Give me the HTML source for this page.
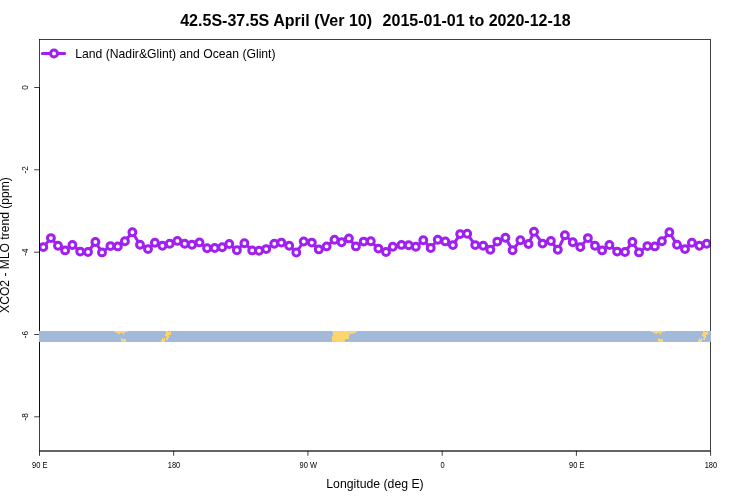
<!DOCTYPE html>
<html><head><meta charset="utf-8"><title>chart</title>
<style>
html,body{margin:0;padding:0;background:#fff;}
body{width:750px;height:500px;overflow:hidden;font-family:"Liberation Sans",sans-serif;}
svg{display:block;will-change:transform}
text{font-family:"Liberation Sans",sans-serif;fill:#000}
</style></head><body>
<svg width="750" height="500" viewBox="0 0 750 500">
<rect width="750" height="500" fill="#fff"/>
<g font-size="16.05" font-weight="bold"><text x="180.2" y="26.2">42.5S-37.5S April (Ver 10)</text><text x="382.6" y="26.2">2015-01-01 to 2020-12-18</text></g>
<defs><clipPath id="pc"><rect x="39.5" y="39.5" width="671" height="411"/></clipPath></defs>
<g clip-path="url(#pc)"><polyline points="43.30,247.10 50.90,238.10 58.00,245.80 65.10,250.40 72.40,245.00 80.20,251.60 88.00,252.00 95.40,242.00 102.00,252.40 110.40,246.10 117.80,246.40 124.90,241.20 132.40,232.30 140.00,244.80 148.00,249.10 154.90,242.80 162.40,245.70 169.70,243.70 177.40,240.90 184.70,243.80 192.00,244.80 199.50,242.40 207.10,248.30 214.70,248.00 222.20,247.20 229.30,244.00 236.90,250.20 244.40,243.20 252.20,250.40 259.00,250.80 266.20,249.10 274.30,243.80 281.30,242.60 289.20,245.80 296.30,252.50 303.70,241.50 311.80,242.60 318.80,249.40 326.60,246.40 334.50,239.80 341.60,242.30 348.90,238.40 355.90,246.40 363.70,241.60 370.80,241.30 378.40,248.60 386.00,252.00 392.80,246.70 401.50,244.90 408.70,245.30 415.80,246.80 423.30,240.30 430.70,248.00 437.80,239.70 445.30,241.40 452.90,245.10 460.20,234.10 467.20,233.80 475.20,245.10 483.20,245.80 490.30,249.80 497.30,241.60 505.40,237.80 512.60,250.20 520.40,240.30 528.50,244.00 534.00,231.70 542.50,243.60 550.90,241.00 557.80,249.80 564.90,235.30 572.80,242.20 580.30,247.10 587.90,238.10 595.00,245.80 602.10,250.40 609.40,245.00 617.20,251.60 625.00,252.00 632.40,242.00 639.00,252.40 647.40,246.10 654.80,246.40 661.90,241.20 669.40,232.30 677.00,244.80 685.00,249.10 691.90,242.80 699.40,245.70 706.70,243.70" fill="none" stroke="#a020f0" stroke-width="3" stroke-linejoin="round"/>
<g fill="#fff" stroke="#a020f0" stroke-width="3"><circle cx="43.30" cy="247.10" r="3.45"/><circle cx="50.90" cy="238.10" r="3.45"/><circle cx="58.00" cy="245.80" r="3.45"/><circle cx="65.10" cy="250.40" r="3.45"/><circle cx="72.40" cy="245.00" r="3.45"/><circle cx="80.20" cy="251.60" r="3.45"/><circle cx="88.00" cy="252.00" r="3.45"/><circle cx="95.40" cy="242.00" r="3.45"/><circle cx="102.00" cy="252.40" r="3.45"/><circle cx="110.40" cy="246.10" r="3.45"/><circle cx="117.80" cy="246.40" r="3.45"/><circle cx="124.90" cy="241.20" r="3.45"/><circle cx="132.40" cy="232.30" r="3.45"/><circle cx="140.00" cy="244.80" r="3.45"/><circle cx="148.00" cy="249.10" r="3.45"/><circle cx="154.90" cy="242.80" r="3.45"/><circle cx="162.40" cy="245.70" r="3.45"/><circle cx="169.70" cy="243.70" r="3.45"/><circle cx="177.40" cy="240.90" r="3.45"/><circle cx="184.70" cy="243.80" r="3.45"/><circle cx="192.00" cy="244.80" r="3.45"/><circle cx="199.50" cy="242.40" r="3.45"/><circle cx="207.10" cy="248.30" r="3.45"/><circle cx="214.70" cy="248.00" r="3.45"/><circle cx="222.20" cy="247.20" r="3.45"/><circle cx="229.30" cy="244.00" r="3.45"/><circle cx="236.90" cy="250.20" r="3.45"/><circle cx="244.40" cy="243.20" r="3.45"/><circle cx="252.20" cy="250.40" r="3.45"/><circle cx="259.00" cy="250.80" r="3.45"/><circle cx="266.20" cy="249.10" r="3.45"/><circle cx="274.30" cy="243.80" r="3.45"/><circle cx="281.30" cy="242.60" r="3.45"/><circle cx="289.20" cy="245.80" r="3.45"/><circle cx="296.30" cy="252.50" r="3.45"/><circle cx="303.70" cy="241.50" r="3.45"/><circle cx="311.80" cy="242.60" r="3.45"/><circle cx="318.80" cy="249.40" r="3.45"/><circle cx="326.60" cy="246.40" r="3.45"/><circle cx="334.50" cy="239.80" r="3.45"/><circle cx="341.60" cy="242.30" r="3.45"/><circle cx="348.90" cy="238.40" r="3.45"/><circle cx="355.90" cy="246.40" r="3.45"/><circle cx="363.70" cy="241.60" r="3.45"/><circle cx="370.80" cy="241.30" r="3.45"/><circle cx="378.40" cy="248.60" r="3.45"/><circle cx="386.00" cy="252.00" r="3.45"/><circle cx="392.80" cy="246.70" r="3.45"/><circle cx="401.50" cy="244.90" r="3.45"/><circle cx="408.70" cy="245.30" r="3.45"/><circle cx="415.80" cy="246.80" r="3.45"/><circle cx="423.30" cy="240.30" r="3.45"/><circle cx="430.70" cy="248.00" r="3.45"/><circle cx="437.80" cy="239.70" r="3.45"/><circle cx="445.30" cy="241.40" r="3.45"/><circle cx="452.90" cy="245.10" r="3.45"/><circle cx="460.20" cy="234.10" r="3.45"/><circle cx="467.20" cy="233.80" r="3.45"/><circle cx="475.20" cy="245.10" r="3.45"/><circle cx="483.20" cy="245.80" r="3.45"/><circle cx="490.30" cy="249.80" r="3.45"/><circle cx="497.30" cy="241.60" r="3.45"/><circle cx="505.40" cy="237.80" r="3.45"/><circle cx="512.60" cy="250.20" r="3.45"/><circle cx="520.40" cy="240.30" r="3.45"/><circle cx="528.50" cy="244.00" r="3.45"/><circle cx="534.00" cy="231.70" r="3.45"/><circle cx="542.50" cy="243.60" r="3.45"/><circle cx="550.90" cy="241.00" r="3.45"/><circle cx="557.80" cy="249.80" r="3.45"/><circle cx="564.90" cy="235.30" r="3.45"/><circle cx="572.80" cy="242.20" r="3.45"/><circle cx="580.30" cy="247.10" r="3.45"/><circle cx="587.90" cy="238.10" r="3.45"/><circle cx="595.00" cy="245.80" r="3.45"/><circle cx="602.10" cy="250.40" r="3.45"/><circle cx="609.40" cy="245.00" r="3.45"/><circle cx="617.20" cy="251.60" r="3.45"/><circle cx="625.00" cy="252.00" r="3.45"/><circle cx="632.40" cy="242.00" r="3.45"/><circle cx="639.00" cy="252.40" r="3.45"/><circle cx="647.40" cy="246.10" r="3.45"/><circle cx="654.80" cy="246.40" r="3.45"/><circle cx="661.90" cy="241.20" r="3.45"/><circle cx="669.40" cy="232.30" r="3.45"/><circle cx="677.00" cy="244.80" r="3.45"/><circle cx="685.00" cy="249.10" r="3.45"/><circle cx="691.90" cy="242.80" r="3.45"/><circle cx="699.40" cy="245.70" r="3.45"/><circle cx="706.70" cy="243.70" r="3.45"/></g></g>
<line x1="42.4" y1="53.6" x2="64.6" y2="53.6" stroke="#a020f0" stroke-width="3" stroke-linecap="round"/>
<circle cx="54" cy="53.5" r="3.45" fill="#fff" stroke="#a020f0" stroke-width="3"/>
<text x="75.3" y="57.8" font-size="12.18">Land (Nadir&amp;Glint) and Ocean (Glint)</text>
<g stroke="#000" stroke-width="0.75" fill="none">
<rect x="39.5" y="39.5" width="671.1" height="411.5"/>
<line x1="39.5" y1="451" x2="39.5" y2="455.8"/><line x1="173.7" y1="451" x2="173.7" y2="455.8"/><line x1="307.9" y1="451" x2="307.9" y2="455.8"/><line x1="442.2" y1="451" x2="442.2" y2="455.8"/><line x1="576.4" y1="451" x2="576.4" y2="455.8"/><line x1="710.6" y1="451" x2="710.6" y2="455.8"/><line x1="34.2" y1="87.5" x2="39.5" y2="87.5"/><line x1="34.2" y1="169.8" x2="39.5" y2="169.8"/><line x1="34.2" y1="252.2" x2="39.5" y2="252.2"/><line x1="34.2" y1="334.5" x2="39.5" y2="334.5"/><line x1="34.2" y1="416.8" x2="39.5" y2="416.8"/>
<line x1="39.5" y1="451" x2="710.6" y2="451"/><line x1="39.5" y1="87.5" x2="39.5" y2="416.8"/>
</g>
<rect shape-rendering="crispEdges" x="39" y="331" width="672" height="11" fill="#a3b9d9"/>
<g fill="#fdd56e" shape-rendering="crispEdges"><rect x="114" y="331" width="14" height="1"/><rect x="651" y="331" width="14" height="1"/><rect x="116" y="332" width="9" height="1"/><rect x="653" y="332" width="9" height="1"/><rect x="118" y="333" width="2" height="1"/><rect x="655" y="333" width="2" height="1"/><rect x="123" y="333" width="1" height="1"/><rect x="660" y="333" width="1" height="1"/><rect x="123" y="334" width="1" height="1"/><rect x="660" y="334" width="1" height="1"/><rect x="121" y="338" width="1" height="1"/><rect x="658" y="338" width="1" height="1"/><rect x="121" y="339" width="5" height="1"/><rect x="658" y="339" width="5" height="1"/><rect x="121" y="340" width="5" height="1"/><rect x="658" y="340" width="5" height="1"/><rect x="122" y="341" width="4" height="1"/><rect x="659" y="341" width="4" height="1"/><rect x="166" y="331" width="2" height="1"/><rect x="703" y="331" width="2" height="1"/><rect x="170" y="331" width="1" height="1"/><rect x="707" y="331" width="1" height="1"/><rect x="166" y="332" width="5" height="1"/><rect x="703" y="332" width="5" height="1"/><rect x="166" y="333" width="5" height="1"/><rect x="703" y="333" width="5" height="1"/><rect x="165" y="334" width="6" height="1"/><rect x="702" y="334" width="6" height="1"/><rect x="165" y="335" width="4" height="1"/><rect x="702" y="335" width="4" height="1"/><rect x="166" y="336" width="3" height="1"/><rect x="703" y="336" width="3" height="1"/><rect x="167" y="337" width="2" height="1"/><rect x="704" y="337" width="2" height="1"/><rect x="166" y="338" width="2" height="1"/><rect x="703" y="338" width="2" height="1"/><rect x="166" y="339" width="2" height="1"/><rect x="703" y="339" width="2" height="1"/><rect x="162" y="338" width="1" height="1"/><rect x="699" y="338" width="1" height="1"/><rect x="164" y="338" width="1" height="1"/><rect x="701" y="338" width="1" height="1"/><rect x="162" y="339" width="3" height="1"/><rect x="699" y="339" width="3" height="1"/><rect x="161" y="340" width="4" height="1"/><rect x="698" y="340" width="4" height="1"/><rect x="161" y="341" width="4" height="1"/><rect x="698" y="341" width="4" height="1"/><rect x="332" y="331" width="25" height="1"/><rect x="333" y="332" width="23" height="1"/><rect x="333" y="333" width="21" height="1"/><rect x="333" y="334" width="16" height="1"/><rect x="333" y="335" width="17" height="1"/><rect x="332" y="336" width="17" height="1"/><rect x="332" y="337" width="17" height="1"/><rect x="332" y="338" width="17" height="1"/><rect x="332" y="339" width="13" height="1"/><rect x="332" y="340" width="13" height="1"/><rect x="332" y="341" width="1" height="1"/><rect x="334" y="341" width="11" height="1"/></g>
<g font-size="8.5"><text transform="translate(39.8,467.9) scale(0.88,1)" text-anchor="middle">90 E</text><text transform="translate(174.0,467.9) scale(0.88,1)" text-anchor="middle">180</text><text transform="translate(308.2,467.9) scale(0.88,1)" text-anchor="middle">90 W</text><text transform="translate(442.5,467.9) scale(0.88,1)" text-anchor="middle">0</text><text transform="translate(576.7,467.9) scale(0.88,1)" text-anchor="middle">90 E</text><text transform="translate(710.9,467.9) scale(0.88,1)" text-anchor="middle">180</text><text transform="translate(28.2,87.5) rotate(-90) scale(0.97,1)" text-anchor="middle">0</text><text transform="translate(28.2,169.8) rotate(-90) scale(0.97,1)" text-anchor="middle">-2</text><text transform="translate(28.2,252.2) rotate(-90) scale(0.97,1)" text-anchor="middle">-4</text><text transform="translate(28.2,334.5) rotate(-90) scale(0.97,1)" text-anchor="middle">-6</text><text transform="translate(28.2,416.8) rotate(-90) scale(0.97,1)" text-anchor="middle">-8</text></g>
<text x="375" y="487.8" text-anchor="middle" font-size="12.25">Longitude (deg E)</text>
<text transform="translate(9,245) rotate(-90)" text-anchor="middle" font-size="12.1">XCO2 - MLO trend (ppm)</text>
</svg>
</body></html>
